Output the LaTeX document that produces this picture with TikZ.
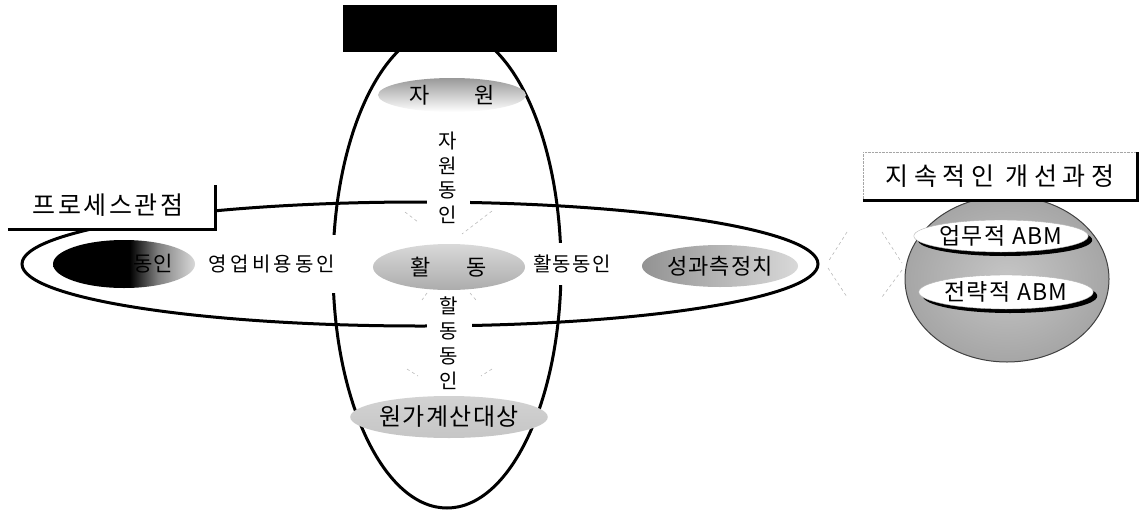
\documentclass[tikz,border=0pt]{standalone}
\usepackage{fontspec}
\setmainfont{Noto Sans CJK KR}
\usetikzlibrary{shapes.geometric,shadows}
\pgfdeclarehorizontalshading{costshade}{100bp}{color(0bp)=(black); color(52bp)=(black); color(62bp)=(black!50); color(75bp)=(black!15); color(100bp)=(black!15)}
\begin{document}
\begin{tikzpicture}[x=1pt,y=-1pt,
  ring/.style={draw=black, line width=3pt, ellipse, inner sep=0pt},
  lbl/.style={fill=white, inner sep=0pt},
  oval/.style={ellipse, inner sep=0pt},
  ray/.style={draw=gray!55, dashed, line width=0.6pt},
  pill/.style={ellipse, fill=white, draw=black!30, inner sep=0pt,
    drop shadow={shadow xshift=4pt, shadow yshift=-4pt, fill=black, opacity=1}},
  fs/.style={font=\fontsize{#1}{#1}\selectfont}
]
\useasboundingbox (0,0) rectangle (1142,514);
% big rings
\node[ring, minimum width=228, minimum height=480] (vring) at (447,268) {};
\node[ring, minimum width=796, minimum height=124] (hring) at (420,264) {};
% inner ovals of the horizontal ring
\node[oval, minimum width=142, minimum height=48, shading=costshade] (cost) at (124,264) {};
\node[fs=21, anchor=east] (costtxt) at (176,264) {동인};
\node[lbl, minimum width=150, minimum height=58, fs=20] (opdrv) at (272,264) {\addfontfeature{LetterSpace=16}영업비용동인};
\node[oval, minimum width=152, minimum height=46, top color=gray!30, bottom color=gray!65, fs=22] (act) at (449,267) {활\hspace{36pt}동};
\node[lbl, minimum width=90, minimum height=42, fs=20] (actdrv) at (572,264) {\addfontfeature{LetterSpace=6}활동동인};
\node[oval, minimum width=156, minimum height=42, left color=gray!85, right color=gray!30, fs=22] (perf) at (720,266) {\addfontfeature{LetterSpace=5}성과측정치};
% inner ovals of the vertical ring
\node[oval, minimum width=148, minimum height=34, top color=gray!80, bottom color=white, fs=22] (res) at (452,95) {자\hspace{44pt}원};
\node[lbl, minimum width=43, align=center, font=\fontsize{20}{24.5}\selectfont] (resdrv) at (448,178) {자\\원\\동\\인};
\node[lbl, minimum width=45, align=center, font=\fontsize{20}{25}\selectfont] (actdrv2) at (449,343) {할\\동\\동\\인};
\node[oval, minimum width=168, minimum height=42, top color=gray!35, middle color=black!75, bottom color=gray!45, fs=24] (obj) at (449,417) {\addfontfeature{LetterSpace=6}원가계산대상};
% rays
\coordinate (r1a) at (405,212); \coordinate (r1b) at (418,222);
\coordinate (r2a) at (492,211); \coordinate (r2b) at (462,234);
\coordinate (r3a) at (427,293); \coordinate (r3b) at (422,300);
\coordinate (r4a) at (470,293); \coordinate (r4b) at (476,300);
\coordinate (r5a) at (407,369); \coordinate (r5b) at (418,376);
\coordinate (r6a) at (492,369); \coordinate (r6b) at (481,376);
\coordinate (r7a) at (847,232); \coordinate (r7b) at (828,262);
\coordinate (r8a) at (828,268); \coordinate (r8b) at (847,297);
\coordinate (r9a) at (882,232); \coordinate (r9b) at (902,263);
\coordinate (r10a) at (902,270); \coordinate (r10b) at (882,297);
\foreach \i in {1,...,10} \draw[ray] (r\i a) -- (r\i b);
% process view label
\node[fill=white, minimum width=207, minimum height=46, inner sep=0pt] (pv) at (111.5,206) {};
\node[fs=25] (pvtxt) at (108,205) {\addfontfeature{LetterSpace=10}프로세스관점};
\draw[line width=3pt] (pv.south west) -- (pv.south east) -- ([yshift=-2pt]pv.north east);
% top black box
\node[fill=black, minimum width=214, minimum height=47, inner sep=0pt] (topbox) at (450,28.5) {};
% sphere and pills
\node[oval, minimum width=204, minimum height=166, inner color=gray!45, outer color=gray!70, draw=black!75, line width=1pt] (sphere) at (1007,279) {};
\node[pill, minimum width=156, minimum height=32, fs=23] (ops) at (1001,236) {\addfontfeature{LetterSpace=6}업무적 ABM};
\node[pill, minimum width=164, minimum height=34, fs=23] (strat) at (1006,292) {\addfontfeature{LetterSpace=6}전략적 ABM};
% continuous improvement box
\node[fill=white, minimum width=274, minimum height=48, inner sep=0pt, fs=25] (cip) at (1000,176) {\addfontfeature{LetterSpace=22}지속적인 개선과정};
\draw[gray!70, densely dotted] (cip.south west) -- (cip.north west) -- (cip.north east);
\draw[line width=3pt] (cip.south west) -- (cip.south east) -- (cip.north east);
\end{tikzpicture}
\end{document}
